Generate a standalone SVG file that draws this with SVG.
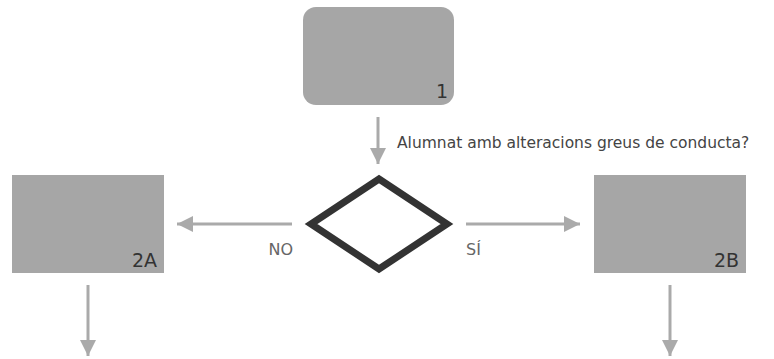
<svg xmlns="http://www.w3.org/2000/svg" width="774" height="359" viewBox="0 0 774 359">
<style>
.box{fill:#a6a6a6;}
.num{font-family:"DejaVu Sans",sans-serif;font-size:19px;fill:#333;text-anchor:end;}
.lbl{font-family:"DejaVu Sans",sans-serif;font-size:15.5px;fill:#444;}
.yn{font-family:"DejaVu Sans",sans-serif;font-size:16px;fill:#666;}
.conn{stroke:#aaaaaa;stroke-width:3;fill:none;marker-end:url(#ah);}
</style>
<defs>
<marker id="ah" markerUnits="userSpaceOnUse" markerWidth="16" markerHeight="16" viewBox="0 0 14 14" refX="14" refY="7" orient="auto">
<path d="M0,0 L14,7 L0,14 Z" fill="#aaaaaa"/>
</marker>
</defs>
<rect width="774" height="359" fill="#fff"/>
<g id="node1">
<rect class="box" x="303" y="7" width="151" height="98" rx="13"/>
<text class="num" x="448" y="98">1</text>
</g>
<g id="decision">
<polygon points="379,179 447,224 379,269 311,224" fill="#fff" stroke="#333" stroke-width="7" stroke-linejoin="miter"/>
</g>
<g id="node2A">
<rect class="box" x="12" y="175" width="152" height="98"/>
<text class="num" x="157" y="267">2A</text>
</g>
<g id="node2B">
<rect class="box" x="594" y="175" width="152" height="98"/>
<text class="num" x="739" y="267">2B</text>
</g>
<g id="connectors">
<line class="conn" x1="378" y1="117" x2="378" y2="164"/>
<line class="conn" x1="292" y1="224" x2="177" y2="224"/>
<line class="conn" x1="466" y1="224" x2="580" y2="224"/>
<line class="conn" x1="88" y1="285" x2="88" y2="356"/>
<line class="conn" x1="670" y1="285" x2="670" y2="356"/>
<text class="lbl" x="397" y="148">Alumnat amb alteracions greus de conducta?</text>
<text class="yn" x="293" y="255" text-anchor="end">NO</text>
<text class="yn" x="466" y="255">SÍ</text>
</g>
</svg>
